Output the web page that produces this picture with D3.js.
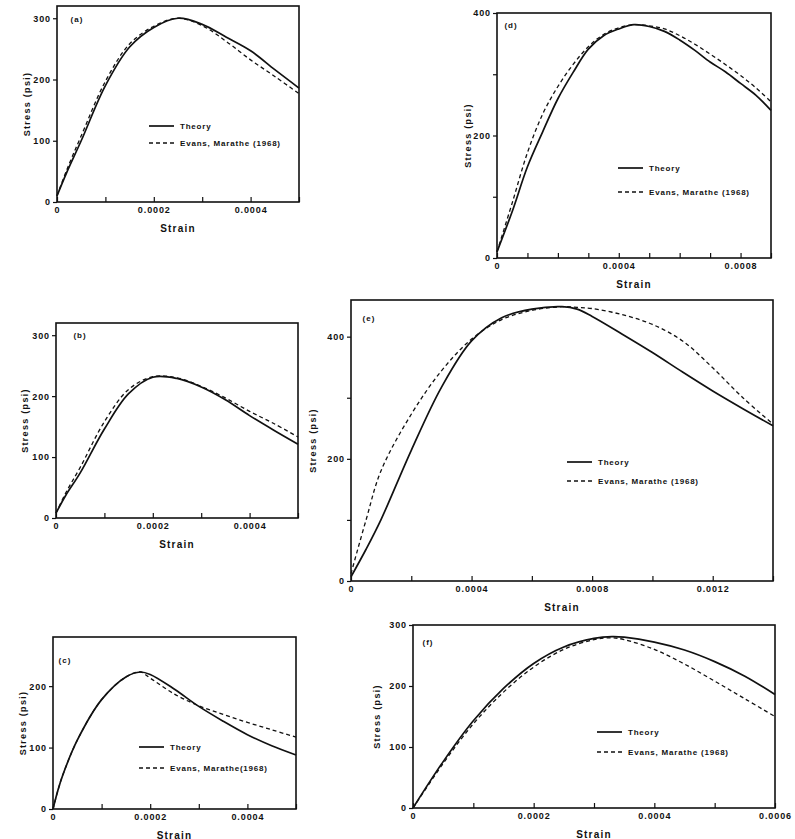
<!DOCTYPE html>
<html>
<head>
<meta charset="utf-8">
<script src="https://cdn.jsdelivr.net/npm/d3@7"></script>
<style>
  body { margin: 0; background: #fff; }
  svg text { font-family: "Liberation Sans", Arial, sans-serif; font-weight: bold; fill: #111; }
</style>
</head>
<body>
<div class="canva"></div>
<script>
// values (strain, stress in psi)
const strainA = [0, 0.00002, 0.00005, 0.0001, 0.00015, 0.0002, 0.00025, 0.0003, 0.00035, 0.0004, 0.00045, 0.0005];
const theoryA = [10, 48, 100, 190, 253, 285, 300, 290, 269, 247, 216, 186];
const evansA  = [10, 52, 108, 197, 258, 287, 300, 288, 262, 232, 205, 177];

const strainB = [0, 0.00002, 0.00005, 0.0001, 0.00015, 0.0002, 0.00025, 0.0003, 0.00035, 0.0004, 0.00045, 0.0005];
const theoryB = [8, 37, 74, 146, 204, 231, 229, 215, 194, 168, 144, 121];
const evansB  = [8, 41, 83, 158, 211, 232, 230, 216, 197, 175, 155, 133];

const strainC = [0, 0.00001, 0.00002, 0.00005, 0.0001, 0.00015, 0.00018, 0.0002, 0.00025, 0.0003, 0.00035, 0.0004, 0.00045, 0.0005];
const theoryC = [0, 30, 55, 112, 178, 215, 223, 219, 195, 167, 143, 121, 103, 88];
const evansC  = [0, 30, 55, 112, 178, 215, 223, 213, 187, 168, 154, 141, 129, 117];

const strainD = [0, 0.00005, 0.0001, 0.00015, 0.0002, 0.00025, 0.0003, 0.00035, 0.0004, 0.00045, 0.0005, 0.00055, 0.0006, 0.00065, 0.0007, 0.00075, 0.0008, 0.00085, 0.0009];
const theoryD = [10, 76, 149, 206, 260, 303, 341, 363, 374, 381, 378, 370, 356, 339, 320, 304, 285, 266, 241];
const evansD  = [10, 90, 172, 235, 280, 316, 345, 365, 376, 381, 379, 374, 363, 349, 333, 316, 298, 278, 255];

const strainE = [0, 0.00005, 0.0001, 0.0002, 0.0003, 0.0004, 0.0005, 0.0006, 0.0007, 0.00075, 0.0008, 0.0009, 0.001, 0.0011, 0.0012, 0.0013, 0.0014];
const theoryE = [7, 52, 101, 214, 317, 393, 431, 445, 449, 445, 433, 404, 374, 342, 311, 282, 254];
const evansE  = [12, 100, 181, 273, 344, 396, 428, 443, 449, 448, 446, 436, 420, 393, 349, 300, 257];

const strainF = [0, 0.00005, 0.0001, 0.00015, 0.0002, 0.00025, 0.0003, 0.00033, 0.00035, 0.0004, 0.00045, 0.0005, 0.00055, 0.0006];
const theoryF = [0, 76, 143, 196, 237, 264, 278, 281, 280, 272, 259, 240, 216, 186];
const evansF  = [0, 73, 138, 190, 231, 260, 276, 279, 276, 260, 236, 208, 179, 150];

const legendTheory = "Theory";
const legendEvans = "Evans, Marathe (1968)";

// panel layout: frame in pixels + axes settings
const panels = [
  { id: "(a)", strain: strainA, theory: theoryA, evans: evansA, evansLabel: legendEvans,
    left: 57, right: 299, top: 6, bottom: 202, xMax: 0.0005, yMax: 320,
    xTicks: d3.range(0, 0.00051, 0.0001), xLabels: [0, 0.0002, 0.0004],
    yTicks: [0, 100, 200, 300], yLabels: [0, 100, 200, 300], yTitleX: 27,
    tag: [77, 19], legend: [149, 126, 143] },
  { id: "(b)", strain: strainB, theory: theoryB, evans: evansB, evansLabel: null,
    left: 56, right: 298, top: 323, bottom: 518, xMax: 0.0005, yMax: 320,
    xTicks: d3.range(0, 0.00051, 0.0001), xLabels: [0, 0.0002, 0.0004],
    yTicks: [0, 100, 200, 300], yLabels: [0, 100, 200, 300], yTitleX: 25,
    tag: [80, 335], legend: null },
  { id: "(c)", strain: strainC, theory: theoryC, evans: evansC, evansLabel: "Evans, Marathe(1968)",
    left: 53, right: 296, top: 637, bottom: 809, xMax: 0.0005, yMax: 280,
    xTicks: d3.range(0, 0.00051, 0.0001), xLabels: [0, 0.0002, 0.0004],
    yTicks: [0, 100, 200], yLabels: [0, 100, 200], yTitleX: 23,
    tag: [65, 660], legend: [139, 747, 768] },
  { id: "(d)", strain: strainD, theory: theoryD, evans: evansD, evansLabel: legendEvans,
    left: 497, right: 771, top: 13, bottom: 258, xMax: 0.0009, yMax: 400,
    xTicks: d3.range(0, 0.00091, 0.0001), xLabels: [0, 0.0004, 0.0008],
    yTicks: [0, 100, 200, 300, 400], yLabels: [0, 200, 400], yTitleX: 468,
    tag: [511, 25], legend: [618, 168, 192] },
  { id: "(e)", strain: strainE, theory: theoryE, evans: evansE, evansLabel: legendEvans,
    left: 351, right: 773, top: 300, bottom: 581, xMax: 0.0014, yMax: 460,
    xTicks: d3.range(0, 0.00141, 0.0002), xLabels: [0, 0.0004, 0.0008, 0.0012],
    yTicks: [0, 100, 200, 300, 400], yLabels: [0, 200, 400], yTitleX: 313,
    tag: [369, 318], legend: [567, 462, 481] },
  { id: "(f)", strain: strainF, theory: theoryF, evans: evansF, evansLabel: legendEvans,
    left: 413, right: 775, top: 625, bottom: 808, xMax: 0.0006, yMax: 300,
    xTicks: d3.range(0, 0.00061, 0.0001), xLabels: [0, 0.0002, 0.0004, 0.0006],
    yTicks: [0, 100, 200, 300], yLabels: [0, 100, 200, 300], yTitleX: 377,
    tag: [428, 642], legend: [597, 732, 752] }
];

const svg = d3.select('.canva').append('svg')
  .attr('width', 795)
  .attr('height', 839);

const fmtX = v => v < 1e-9 ? "0" : v.toFixed(4);
const near = (list, v) => list.some(l => Math.abs(l - v) < 1e-9);

panels.forEach(p => {
  const x = d3.scaleLinear().domain([0, p.xMax]).range([p.left, p.right]);
  const y = d3.scaleLinear().domain([0, p.yMax]).range([p.bottom, p.top]);
  const g = svg.append('g');

  // x axis, ticks pointing in
  const xAxis = g.append('g')
    .attr('transform', `translate(0,${p.bottom})`)
    .call(d3.axisBottom(x).tickValues(p.xTicks).tickSize(-5).tickPadding(5)
      .tickFormat(v => near(p.xLabels, v) ? fmtX(v) : ""));

  const yAxis = g.append('g')
    .attr('transform', `translate(${p.left},0)`)
    .call(d3.axisLeft(y).tickValues(p.yTicks).tickSize(4).tickPadding(2)
      .tickFormat(v => near(p.yLabels, v) ? v : ""));

  [xAxis, yAxis].forEach(a => {
    a.select('.domain').remove();
    a.selectAll('line').attr('stroke', '#111').attr('stroke-width', 1.2);
    a.selectAll('text').style('font-size', '9px').style('letter-spacing', '0.9px').attr('fill', '#111');
  });

  // frame
  g.append('rect')
    .attr('x', p.left).attr('y', p.top)
    .attr('width', p.right - p.left).attr('height', p.bottom - p.top)
    .attr('fill', 'none').attr('stroke', '#111').attr('stroke-width', 1.6);

  const line = d3.line()
    .x(d => x(d[0]))
    .y(d => y(d[1]))
    .curve(d3.curveCatmullRom.alpha(0.5));

  g.append('path')
    .attr('d', line(p.strain.map((s, i) => [s, p.evans[i]])))
    .attr('fill', 'none').attr('stroke', '#111').attr('stroke-width', 1.3)
    .attr('stroke-dasharray', '4,3');

  g.append('path')
    .attr('d', line(p.strain.map((s, i) => [s, p.theory[i]])))
    .attr('fill', 'none').attr('stroke', '#111').attr('stroke-width', 1.7);

  // axis titles
  g.append('text')
    .attr('x', (p.left + p.right) / 2).attr('y', p.bottom + 26)
    .attr('dy', '0.35em').attr('text-anchor', 'middle')
    .style('font-size', '10px').style('letter-spacing', '1.2px')
    .text('Strain');

  g.append('text')
    .attr('transform', `translate(${p.yTitleX},${(p.top + p.bottom) / 2}) rotate(-90)`)
    .attr('dy', '0.35em').attr('text-anchor', 'middle')
    .style('font-size', '9px').style('letter-spacing', '1.3px')
    .text('Stress (psi)');

  g.append('text')
    .attr('x', p.tag[0]).attr('y', p.tag[1])
    .attr('dy', '0.35em').attr('text-anchor', 'middle')
    .style('font-size', '8px').style('letter-spacing', '1px')
    .text(p.id);

  if (p.legend) {
    const [lx, ty, ey] = p.legend;
    g.append('line').attr('x1', lx).attr('x2', lx + 25).attr('y1', ty).attr('y2', ty)
      .attr('stroke', '#111').attr('stroke-width', 1.7);
    g.append('line').attr('x1', lx).attr('x2', lx + 25).attr('y1', ey).attr('y2', ey)
      .attr('stroke', '#111').attr('stroke-width', 1.3).attr('stroke-dasharray', '4,3');
    g.append('text').attr('x', lx + 31).attr('y', ty).attr('dy', '0.35em')
      .style('font-size', '8px').style('letter-spacing', '0.8px').text(legendTheory);
    g.append('text').attr('x', lx + 31).attr('y', ey).attr('dy', '0.35em')
      .style('font-size', '8px').style('letter-spacing', '0.8px').text(p.evansLabel);
  }
});
</script>
</body>
</html>
